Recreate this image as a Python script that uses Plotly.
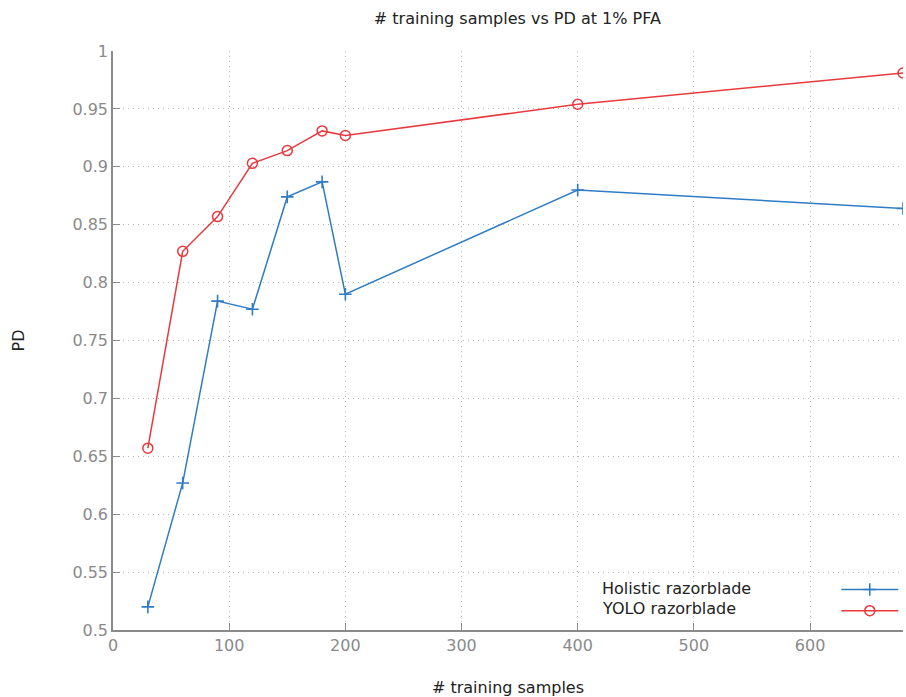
import plotly.graph_objects as go

samples = [30, 60, 90, 120, 150, 180, 200, 400, 680]
holistic_pd = [0.520, 0.627, 0.784, 0.777, 0.874, 0.887, 0.790, 0.880, 0.864]
yolo_pd = [0.657, 0.827, 0.857, 0.903, 0.914, 0.931, 0.927, 0.954, 0.981]
series_names = ["Holistic razorblade", "YOLO razorblade"]
x_ticks = [0, 100, 200, 300, 400, 500, 600]
y_ticks = [0.5, 0.55, 0.6, 0.65, 0.7, 0.75, 0.8, 0.85, 0.9, 0.95, 1.0]
y_tick_labels = ["0.5", "0.55", "0.6", "0.65", "0.7", "0.75", "0.8", "0.85", "0.9", "0.95", "1"]

BLUE = "#2f7cc4"
RED = "#e8393f"
FONT = "DejaVu Sans"

fig = go.Figure()
fig.add_trace(go.Scatter(
    x=samples, y=holistic_pd, mode="lines+markers", name=" ",
    line=dict(color=BLUE, width=1.5),
    marker=dict(symbol="cross-thin", size=9, line=dict(color=BLUE, width=1.6), color=BLUE),
))
fig.add_trace(go.Scatter(
    x=samples, y=yolo_pd, mode="lines+markers", name=" ",
    line=dict(color=RED, width=1.5),
    marker=dict(symbol="circle-open", size=10, line=dict(color=RED, width=1.5), color=RED),
))

for i, nm in enumerate(series_names):
    fig.add_annotation(
        text=nm, xref="paper", yref="paper", x=0.616, y=[0.0725, 0.0363][i],
        xanchor="left", yanchor="middle", showarrow=False,
        font=dict(family=FONT, size=16, color="#222222"),
    )

axis_common = dict(
    showline=True, linecolor="#8a8a8a", linewidth=1.5,
    ticks="inside", ticklen=7, tickcolor="#8a8a8a", tickwidth=1,
    showgrid=True, gridcolor="#b8b8b8", griddash="1px,4px", gridwidth=1,
    zeroline=False, mirror=False,
    tickfont=dict(family=FONT, size=16, color="#8a8a8a"),
)

fig.update_layout(
    width=906, height=697,
    margin=dict(l=113, r=3, t=51, b=67, autoexpand=False),
    plot_bgcolor="white", paper_bgcolor="white",
    title=dict(text="# training samples vs PD at 1% PFA", x=0.571, xanchor="center",
               y=0.973, yanchor="middle",
               font=dict(family=FONT, size=16, color="#222222")),
    xaxis=dict(range=[0, 680], tickvals=x_ticks,
               title=dict(text="# training samples", standoff=28,
                          font=dict(family=FONT, size=16, color="#222222")),
               **axis_common),
    yaxis=dict(range=[0.5, 1.0], tickvals=y_ticks, ticktext=y_tick_labels,
               title=dict(text="PD", standoff=44,
                          font=dict(family=FONT, size=16, color="#222222")),
               **axis_common),
    showlegend=True,
    legend=dict(x=1.013, y=0.097, xanchor="right", yanchor="top",
                bgcolor="rgba(0,0,0,0)", itemwidth=57, tracegroupgap=0,
                font=dict(family=FONT, size=14)),
)

fig.write_html("out.html")
